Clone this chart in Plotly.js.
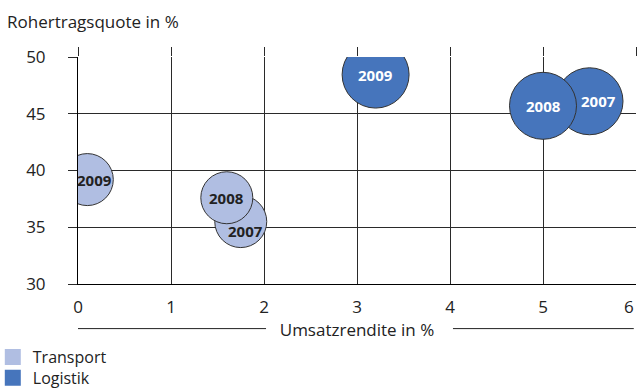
<!DOCTYPE html>
<html>
<head>
<meta charset="utf-8">
<script src="https://cdn.plot.ly/plotly-3.0.1.min.js"></script>
<style>
  html, body { margin: 0; padding: 0; background: #fff; }
  #chart { width: 637px; height: 390px; }
</style>
</head>
<body>
<div id="chart"></div>
<script>
// Umsatzrendite (x) vs. Rohertragsquote (y), Bubbles je Jahr
const jahre = ['2007', '2008', '2009'];

const transportUmsatzrendite = [1.75, 1.6, 0.1];
const transportRohertrag     = [35.5, 37.6, 39.2];
const transportGewicht       = [1, 1, 1];

const logistikUmsatzrendite  = [5.5, 5.0, 3.2];
const logistikRohertrag      = [46.1, 45.7, 48.45];
const logistikGewicht        = [1.66, 1.66, 1.66];

const xTicks = [0, 1, 2, 3, 4, 5, 6];
const yTicks = [30, 35, 40, 45, 50];

const farbeTransport = '#b0bee2';
const farbeLogistik  = '#4675bc';
const textFarbe = '#222';
const linie = '#2a2a2a';
const FONT = '"Open Sans", "Noto Sans", sans-serif';

// reference diameter (px) for a bubble of weight 1
const basisDurchmesser = 52;
const sizeref = 2 / (basisDurchmesser * basisDurchmesser);

function bubbles(name, x, y, w, farbe) {
  return {
    type: 'scatter', mode: 'markers', name: name,
    x: x, y: y, showlegend: false, hoverinfo: 'x+y',
    cliponaxis: true,
    marker: {
      size: w, sizemode: 'area', sizeref: sizeref,
      color: farbe, opacity: 1,
      line: { color: '#333', width: 1 }
    }
  };
}

// legend entries drawn as squares
function legendEintrag(name, farbe, legendId) {
  return {
    type: 'scatter', mode: 'markers', name: name,
    x: [null], y: [null], xaxis: 'x2', yaxis: 'y',
    legend: legendId, showlegend: true, hoverinfo: 'skip',
    marker: { symbol: 'square', size: 16, color: farbe, line: { width: 0 } }
  };
}

const data = [
  bubbles('Transport', transportUmsatzrendite, transportRohertrag, transportGewicht, farbeTransport),
  bubbles('Logistik', logistikUmsatzrendite, logistikRohertrag, logistikGewicht, farbeLogistik),
  legendEintrag('Transport', farbeTransport, 'legend'),
  legendEintrag('Logistik', farbeLogistik, 'legend2')
];

// year labels inside the bubbles; some nudged to stay readable
const transportVersatz = [[4.5, -9.5], [0, 0], [7.5, 0]];
const logistikVersatz  = [[9, 0], [0, 0], [0, 0]];

const annotations = [];
jahre.forEach((jahr, i) => {
  annotations.push({
    x: transportUmsatzrendite[i], y: transportRohertrag[i], xref: 'x', yref: 'y',
    text: '<b>' + jahr + '</b>', showarrow: false,
    xshift: transportVersatz[i][0], yshift: transportVersatz[i][1],
    font: { family: FONT, size: 15, color: textFarbe }
  });
  annotations.push({
    x: logistikUmsatzrendite[i], y: logistikRohertrag[i], xref: 'x', yref: 'y',
    text: '<b>' + jahr + '</b>', showarrow: false,
    xshift: logistikVersatz[i][0], yshift: logistikVersatz[i][1],
    font: { family: FONT, size: 15, color: '#ffffff' }
  });
});

// the last x label sits at the right edge: right-aligned to its tick
const letzterTick = xTicks[xTicks.length - 1];
const xTickText = xTicks.map(v => v === letzterTick ? '' : String(v));
annotations.push({
  x: letzterTick, xref: 'x', y: -0.097, yref: 'paper',
  xanchor: 'right', yanchor: 'middle', showarrow: false,
  text: String(letzterTick),
  font: { family: FONT, size: 17, color: textFarbe }
});

const layout = {
  width: 637, height: 390,
  margin: { l: 78, r: 1, t: 57, b: 106, pad: 0, autoexpand: false },
  paper_bgcolor: '#fff', plot_bgcolor: '#fff',
  font: { family: FONT, size: 17, color: textFarbe },
  title: {
    text: 'Rohertragsquote in %',
    xref: 'container', yref: 'container',
    x: 0.011, xanchor: 'left', y: 0.944, yanchor: 'middle',
    font: { family: FONT, size: 17, color: textFarbe }
  },
  xaxis: {
    range: [0, 6], tickvals: xTicks, ticktext: xTickText,
    showgrid: true, gridcolor: linie, gridwidth: 1,
    zeroline: false, showline: true, linecolor: '#000', linewidth: 1,
    ticks: 'outside', ticklen: 8, tickcolor: 'rgba(0,0,0,0)',
    tickfont: { family: FONT, size: 17, color: textFarbe },
    fixedrange: true, automargin: false,
    title: { text: 'Umsatzrendite in %', standoff: 3,
             font: { family: FONT, size: 17, color: textFarbe } }
  },
  xaxis2: {
    range: [0, 6], tickvals: xTicks, overlaying: 'x', side: 'top', anchor: 'y',
    ticks: 'outside', ticklen: 9, tickcolor: linie, tickwidth: 1,
    showticklabels: false, showgrid: false, showline: false, zeroline: false,
    fixedrange: true
  },
  yaxis: {
    range: [30, 50], tickvals: yTicks, ticktext: yTicks.map(String),
    showgrid: true, gridcolor: linie, gridwidth: 1,
    zeroline: false, showline: true, linecolor: '#000', linewidth: 1,
    ticks: 'outside', ticklen: 9, tickcolor: linie, tickwidth: 1,
    ticklabelstandoff: 19,
    tickfont: { family: FONT, size: 17, color: textFarbe },
    fixedrange: true, automargin: false
  },
  legend: {
    x: -0.1527, xanchor: 'left', y: -0.247, yanchor: 'top',
    bgcolor: 'rgba(0,0,0,0)', borderwidth: 0, itemwidth: 30,
    font: { family: FONT, size: 16, color: textFarbe }
  },
  legend2: {
    x: -0.1527, xanchor: 'left', y: -0.339, yanchor: 'top',
    bgcolor: 'rgba(0,0,0,0)', borderwidth: 0, itemwidth: 30,
    font: { family: FONT, size: 16, color: textFarbe }
  },
  shapes: [
    { type: 'line', xref: 'paper', yref: 'paper', x0: 0, x1: 0.337, y0: -0.1965, y1: -0.1965,
      line: { color: textFarbe, width: 1 } },
    { type: 'line', xref: 'paper', yref: 'paper', x0: 0.672, x1: 0.996, y0: -0.1965, y1: -0.1965,
      line: { color: textFarbe, width: 1 } }
  ],
  annotations: annotations,
  showlegend: true
};

Plotly.newPlot('chart', data, layout, { staticPlot: true, displayModeBar: false });
</script>
</body>
</html>
